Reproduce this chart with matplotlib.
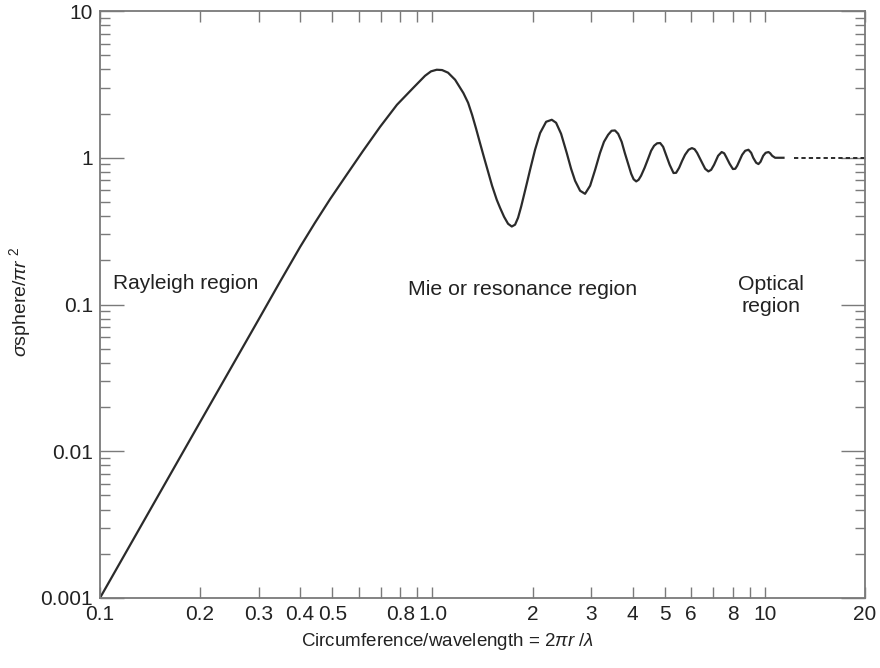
import matplotlib
matplotlib.use("Agg")
import matplotlib.pyplot as plt
from matplotlib.ticker import LogLocator, NullFormatter

plt.rcParams["font.family"] = ["Liberation Sans", "DejaVu Sans"]
plt.rcParams["mathtext.fontset"] = "custom"
plt.rcParams["mathtext.rm"] = "Liberation Sans"
plt.rcParams["mathtext.it"] = "Liberation Sans:italic"
plt.rcParams["mathtext.sf"] = "Liberation Sans"

# Normalised backscatter cross-section of a conducting sphere
ka = [0.10, 0.20, 0.30, 0.348, 0.40, 0.443, 0.492, 0.552, 0.618, 0.696,
      0.782, 0.876, 0.950, 0.990, 1.03, 1.069, 1.114, 1.17, 1.239, 1.28,
      1.316, 1.353, 1.39, 1.43, 1.47, 1.511, 1.561, 1.597, 1.642, 1.688,
      1.732, 1.772, 1.809, 1.848, 1.886, 1.926, 1.966, 2.035, 2.107, 2.197,
      2.285, 2.354, 2.437, 2.535, 2.612, 2.685, 2.78, 2.877, 2.98, 3.085,
      3.19, 3.28, 3.375, 3.458, 3.54, 3.618, 3.707, 3.79, 3.877, 3.96,
      4.027, 4.10, 4.169, 4.24, 4.346, 4.46, 4.546, 4.64, 4.739, 4.84,
      4.94, 5.04, 5.169, 5.31, 5.406, 5.52, 5.636, 5.75, 5.894, 6.03,
      6.144, 6.25, 6.47, 6.61, 6.76, 6.89, 7.03, 7.23, 7.41, 7.54,
      7.64, 7.83, 8.01, 8.14, 8.25, 8.54, 8.72, 8.92, 9.09, 9.22,
      9.41, 9.56, 9.70, 9.88, 10.05, 10.25, 10.37, 10.51, 10.73, 11.37]
sigma_norm = [0.0010, 0.0158, 0.079, 0.143, 0.247, 0.360, 0.522, 0.766, 1.112, 1.626,
              2.297, 3.0, 3.62, 3.88, 3.98, 3.96, 3.80, 3.40, 2.76, 2.37,
              1.96, 1.576, 1.26, 1.0, 0.803, 0.645, 0.517, 0.456, 0.396, 0.355,
              0.34, 0.35, 0.39, 0.464, 0.56, 0.681, 0.828, 1.134, 1.473, 1.759,
              1.815, 1.732, 1.457, 1.076, 0.841, 0.697, 0.596, 0.568, 0.645, 0.828,
              1.076, 1.285, 1.434, 1.528, 1.535, 1.457, 1.285, 1.076, 0.910, 0.778,
              0.714, 0.69, 0.708, 0.754, 0.855, 0.995, 1.116, 1.207, 1.255, 1.26,
              1.188, 1.048, 0.896, 0.787, 0.79, 0.855, 0.954, 1.048, 1.134, 1.164,
              1.143, 1.081, 0.925, 0.841, 0.807, 0.828, 0.896, 1.032, 1.094, 1.073,
              1.016, 0.910, 0.838, 0.841, 0.882, 1.048, 1.116, 1.134, 1.081, 1.0,
              0.925, 0.906, 0.939, 1.032, 1.081, 1.094, 1.073, 1.032, 1.0, 1.0]

# Optical limit continuation
ka_optical = [12.2, 20.0]
sigma_optical = [1.0, 1.0]

x_ticks = [0.1, 0.2, 0.3, 0.4, 0.5, 0.6, 0.7, 0.8, 0.9, 1.0,
           2, 3, 4, 5, 6, 7, 8, 9, 10, 20]
x_tick_labels = ["0.1", "0.2", "0.3", "0.4", "0.5", "", "", "0.8", "", "1.0",
                 "2", "3", "4", "5", "6", "", "8", "", "10", "20"]
y_ticks = [0.001, 0.01, 0.1, 1, 10]
y_tick_labels = ["0.001", "0.01", "0.1", "1", "10"]

axis_grey = "#7a7a7a"
text_col = "#222222"

fig = plt.figure(figsize=(8.8, 6.68), dpi=100)
ax = fig.add_axes([0.1136, 0.1048, 0.8694, 0.8787])

ax.plot(ka, sigma_norm, color="#2b2b2b", lw=1.6, solid_joinstyle="round")
ax.plot(ka_optical, sigma_optical, color="#2b2b2b", lw=1.4,
        linestyle=(0, (2.2, 1.6)))

ax.set_xscale("log")
ax.set_yscale("log")
ax.set_xlim(0.1, 20)
ax.set_ylim(0.001, 10)

ax.set_xticks(x_ticks)
ax.set_xticklabels(x_tick_labels)
ax.xaxis.set_minor_locator(plt.NullLocator())
ax.set_yticks(y_ticks)
ax.set_yticklabels(y_tick_labels)
ax.yaxis.set_minor_locator(LogLocator(base=10, subs=range(2, 10)))
ax.yaxis.set_minor_formatter(NullFormatter())

for s in ax.spines.values():
    s.set_color(axis_grey)
    s.set_linewidth(1.3)

ax.tick_params(axis="x", which="major", direction="in", length=8, width=1,
               color=axis_grey, top=True, bottom=True, labelsize=15,
               labelcolor=text_col, pad=5)
ax.tick_params(axis="y", which="major", direction="in", length=17, width=1,
               color=axis_grey, left=True, right=True, labelsize=15,
               labelcolor=text_col, pad=5)
ax.tick_params(axis="y", which="minor", direction="in", length=7, width=1,
               color=axis_grey, left=True, right=True)

ax.set_xlabel(r"Circumference/wavelength = 2$\pi\mathit{r}$ /$\lambda$",
              fontsize=13.5, color=text_col)
ax.xaxis.set_label_coords(0.455, -0.056)
ax.set_ylabel(r"$\sigma$sphere/$\pi\mathit{r}$ $^{2}$",
              fontsize=14, color=text_col)
ax.yaxis.set_label_coords(-0.088, 0.505)

ax.text(0.1124, 0.535, "Rayleigh region", transform=ax.transAxes,
        ha="center", va="center", fontsize=15, color=text_col)
ax.text(0.5523, 0.525, "Mie or resonance region", transform=ax.transAxes,
        ha="center", va="center", fontsize=15.3, color=text_col)
ax.text(0.8765, 0.5145, "Optical\nregion", transform=ax.transAxes,
        ha="center", va="center", fontsize=15.3, color=text_col,
        linespacing=1.2)

fig.savefig("out.png", dpi=100)
